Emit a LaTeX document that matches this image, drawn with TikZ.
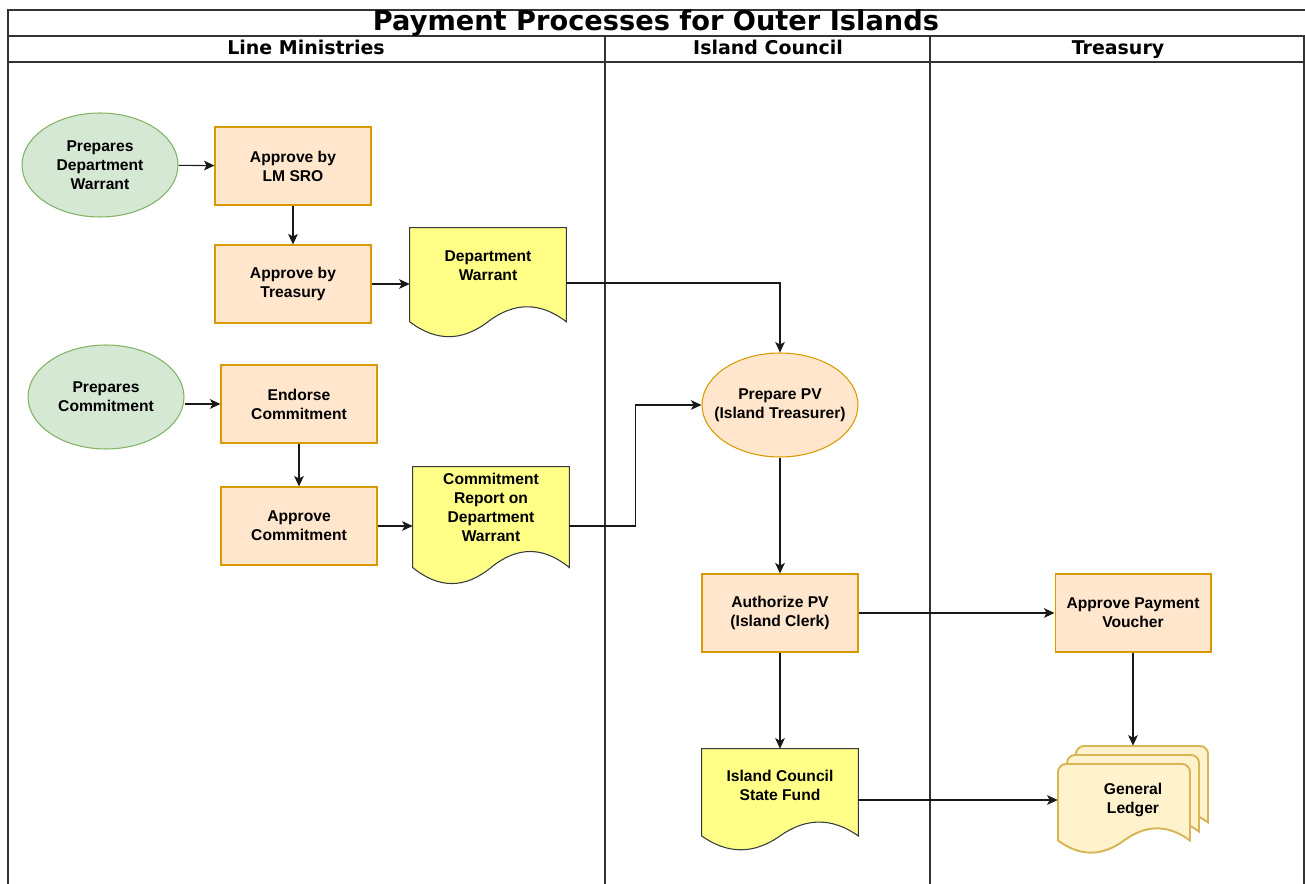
\documentclass[tikz,border=0pt]{standalone}
\usepackage{fontspec}
\setmainfont{Liberation Sans}
\newfontfamily\headfont{DejaVu Sans}
\usetikzlibrary{shapes.geometric,arrows.meta,calc}

\definecolor{startfill}{HTML}{D5E8D4}
\definecolor{startline}{HTML}{82B366}
\definecolor{procfill}{HTML}{FFE6CC}
\definecolor{procline}{HTML}{D79B00}
\definecolor{docfill}{HTML}{FFFF88}
\definecolor{docline}{HTML}{36393D}
\definecolor{ledgerfill}{HTML}{FFF2CC}
\definecolor{ledgerline}{HTML}{D6B656}

\begin{document}
\begin{tikzpicture}[x=0.02cm, y=-0.02cm,
    lane/.style={draw=black!80, line width=0.85pt},
    title/.style={inner sep=0pt, anchor=base, font={\headfont\bfseries\fontsize{15.5}{18}\selectfont}},
    head/.style={inner sep=0pt, anchor=base, font={\headfont\bfseries\fontsize{10.8}{13}\selectfont}},
    txt/.style={inner sep=0pt, align=center, font={\bfseries\fontsize{8.9}{10.8}\selectfont}},
    box/.style={txt, rectangle, draw=procline, fill=procfill, line width=0.6pt,
        minimum width=3.12cm, minimum height=1.56cm},
    start/.style={txt, ellipse, draw=startline, fill=startfill, line width=0.6pt,
        minimum width=3.12cm, minimum height=2.08cm},
    pv/.style={start, draw=procline, fill=procfill, inner xsep=-0.22cm},
    doc/.style={rectangle, inner sep=0pt, minimum width=3.12cm, minimum height=2.2cm},
    docshape/.style={draw=docline, fill=docfill, line width=0.6pt},
    ledger/.style={draw=ledgerline, fill=ledgerfill, line width=1.1pt},
    flow/.style={draw=black!90, line width=0.6pt, -{Stealth[length=6pt,width=5.5pt,inset=1.5pt]}}]

\useasboundingbox (0,0) rectangle (1305,884);

% swimlanes
\draw[lane] (8,884) -- (8,10) -- (1305,10);
\draw[lane] (8,36) -- (1305,36);
\draw[lane] (8,62) -- (1305,62);
\draw[lane] (1304,36) -- (1304,884);
\draw[lane] (605,36) -- (605,884);
\draw[lane] (930,36) -- (930,884);

\node[title] (title) at (656,31) {Payment Processes for Outer Islands};
\node[head] (lm) at (306,55) {Line Ministries};
\node[head] (ic) at (768,55) {Island Council};
\node[head] (tr) at (1118,55) {Treasury};

% line ministries
\node[start] (pdw) at (100,165) {Prepares\\Department\\Warrant};
\node[box] (lmsro) at (293,166) {Approve by\\LM SRO};
\node[box] (aptr) at (293,284) {Approve by\\Treasury};
\node[doc] (dw) at (488,283) {};
\node[start] (pcom) at (106,397) {Prepares\\Commitment};
\node[box] (endorse) at (299,404) {Endorse\\Commitment};
\node[box] (apcom) at (299,526) {Approve\\Commitment};
\node[doc, minimum height=2.36cm] (crd) at (491,526) {};

% island council
\node[pv] (ppv) at (780,405) {Prepare PV\\(Island Treasurer)};
\node[box] (auth) at (780,613) {Authorize PV\\(Island Clerk)};
\node[doc, minimum height=2.04cm] (icsf) at (780,800) {};

% treasury
\node[box] (appv) at (1133,613) {Approve Payment\\Voucher};
\node[doc, minimum width=3cm, minimum height=2.16cm] (gl) at (1133,800) {};

% document outlines
\foreach \d in {dw,crd,icsf}
  \path[docshape] let \p1=(\d.north west), \p2=(\d.south east),
      \n1={\x2-\x1}, \n2={\y1-\y2} in
    (\x1,\y1) -- (\x2,\y1) -- (\x2,\y1-0.85*\n2)
    .. controls (\x1+0.8333*\n1,\y1-0.67*\n2) and (\x1+0.6667*\n1,\y1-0.67*\n2) .. (\x1+0.5*\n1,\y1-0.85*\n2)
    .. controls (\x1+0.3333*\n1,\y1-1.03*\n2) and (\x1+0.1667*\n1,\y1-1.03*\n2) .. (\x1,\y1-0.85*\n2) -- cycle;

\foreach \k in {2,1,0}
  \path[ledger, shift={(1058+9*\k,764-9*\k)}]
    (0,76.5) -- (0,8) .. controls (0,3.6) and (3.6,0) .. (8,0) -- (124,0)
    .. controls (128.4,0) and (132,3.6) .. (132,8) -- (132,76.5)
    .. controls (110,60.3) and (88,60.3) .. (66,76.5)
    .. controls (44,92.7) and (22,92.7) .. (0,76.5) -- cycle;

\node[txt] (dw-t) at (488,266) {Department\\Warrant};
\node[txt] (crd-t) at (491,507) {Commitment\\Report on\\Department\\Warrant};
\node[txt] (icsf-t) at (780,785) {Island Council\\State Fund};
\node[txt] (gl-t) at (1133,800) {General\\Ledger};

% connectors
\draw[flow] (pdw) -- (lmsro);
\draw[flow] (lmsro) -- (aptr);
\draw[flow] (aptr) -- (aptr -| dw.west);
\draw[flow] (dw.east) -| (ppv);
\draw[flow] (pcom.east |- endorse) -- (endorse);
\draw[flow] (endorse) -- (apcom);
\draw[flow] (apcom) -- (crd);
\draw[flow] (crd.east) -- ++(66,0) |- (ppv);
\draw[flow] (ppv) -- (auth);
\draw[flow] (auth) -- (appv);
\draw[flow] (auth) -- (icsf);
\draw[flow] (appv) -- (gl);
\draw[flow] (icsf) -- (gl);
\end{tikzpicture}
\end{document}
